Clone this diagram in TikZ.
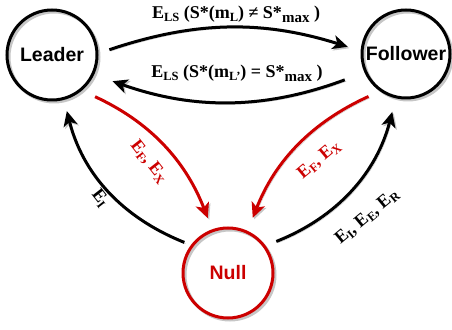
\documentclass[tikz,border=0pt]{standalone}
\usepackage{fontspec}
\setmainfont{Liberation Serif}
\newfontfamily\circfont{Liberation Sans}
\usetikzlibrary{arrows.meta}
\definecolor{myred}{HTML}{CC0000}
\newcommand\lowsub[1]{\raisebox{-0.35ex}{\fontsize{12.5}{13}\selectfont #1}}
\newcommand\bigsub[1]{\raisebox{-0.45ex}{\fontsize{15}{16}\selectfont #1}}
\begin{document}
\begin{tikzpicture}[x=1pt,y=1pt,
  state/.style={circle, draw, line width=3pt, minimum size=90pt, inner sep=0pt,
    font=\circfont\bfseries\fontsize{19.5}{20}\selectfont,
    preaction={draw=gray!45, transform canvas={shift={(2pt,-2pt)}}}},
  conn/.style={line width=3pt, -{Stealth[length=15pt,width=14pt,inset=4pt]},
    preaction={draw=gray!45, transform canvas={shift={(1.5pt,-1.5pt)}}}},
  lab/.style={font=\bfseries\fontsize{18}{20}\selectfont, inner sep=0pt}
]
\useasboundingbox (0,0) rectangle (452,329);
\node[state] (leader) at (52,274) {Leader};
\node[state, minimum size=88pt] (follower) at (406,275) {Follower};
\node[state, draw=myred, text=myred] (null) at (228,56) {Null};

\draw[conn, shorten <=11.5pt, shorten >=13.5pt] (leader.2) to[bend left=18] (follower.176);
\draw[conn, shorten <=21pt, shorten >=19.5pt] (follower.204) to[bend left=20] (leader.-25);
\draw[conn, draw=myred, shorten <=14.5pt, shorten >=12pt] (leader.-50) to[bend left=22] (null.110);
\draw[conn, draw=myred, shorten <=12.5pt, shorten >=14pt] (follower.235.5) to[bend right=22] (null.65.5);
\draw[conn, shorten <=7pt, shorten >=11.5pt] (null.143) to[bend left=27] (leader.-75);
\draw[conn, shorten <=11.5pt, shorten >=14pt] (null.36) to[bend right=27] (follower.257);

\node[lab] (l1) at (236,315) {E\lowsub{LS} (S*(m\lowsub{L}) ≠ S*\bigsub{max} )};
\node[lab] (l2) at (237,256) {E\lowsub{LS} (S*(m\lowsub{L'}) = S*\bigsub{max} )};
\node[lab, text=myred, rotate=-52] (l3) at (149,167) {E\lowsub{F}, E\lowsub{X}};
\node[lab, rotate=-52] (l4) at (100,131) {E\lowsub{I}};
\node[lab, text=myred, rotate=40] (l5) at (319,169) {E\lowsub{F}, E\lowsub{X}};
\node[lab, rotate=40] (l6) at (367,112) {E\lowsub{I}, E\lowsub{E}, E\lowsub{R}};
\end{tikzpicture}
\end{document}
